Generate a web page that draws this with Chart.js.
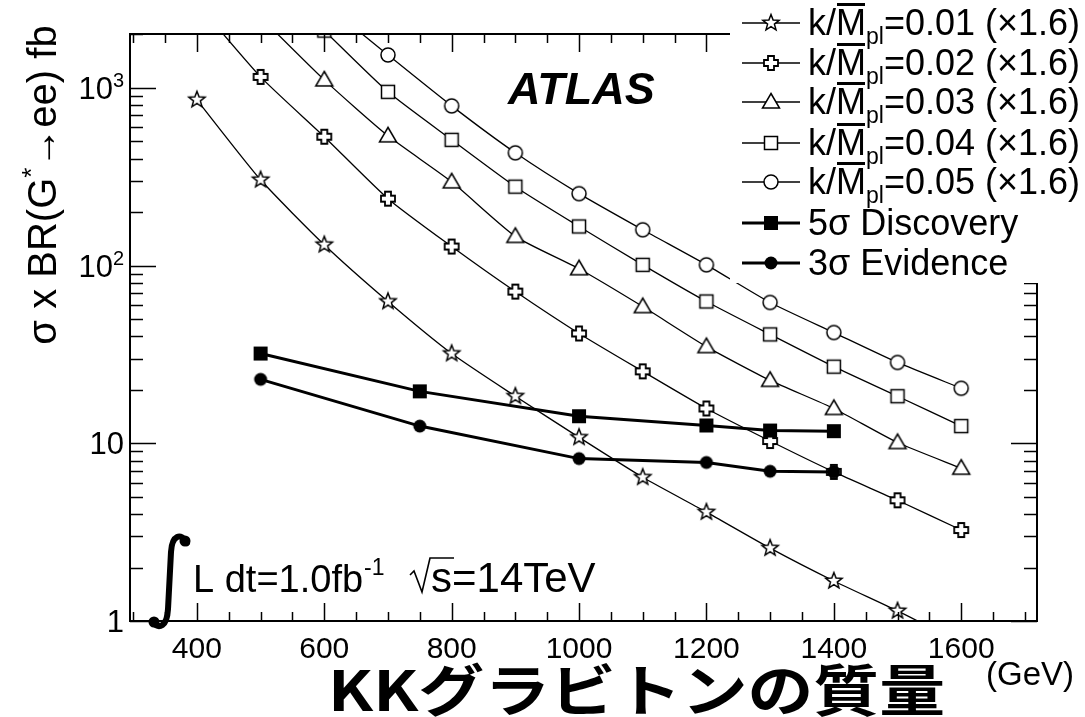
<!DOCTYPE html>
<html>
<head>
<meta charset="utf-8">
<script src="https://cdn.jsdelivr.net/npm/chart.js@4.4.0/dist/chart.umd.min.js"></script>
<style>
  html, body { margin: 0; padding: 0; background: #fff; }
  #wrap { width: 1085px; height: 717px; position: relative; }
</style>
</head>
<body>
<div id="wrap"><canvas id="chart" width="1085" height="717"></canvas></div>
<script>
// graviton mass points (GeV)
const masses = [400, 500, 600, 700, 800, 900, 1000, 1100, 1200, 1300, 1400, 1500, 1600];

// sigma x BR (fb), already scaled x1.6
const k001 = [857, 304, 131, 62.8, 32, 18.4, 10.8, 6.44, 4.1, 2.57, 1.68, 1.14, 0.75];
const k002 = [3000, 1153, 531, 238, 128, 71.4, 41.5, 25.4, 15.7, 10.3, 6.9, 4.78, 3.25];
const k003 = [null, 2500, 1109, 537, 296, 146, 96, 58.8, 35, 22.6, 15.7, 10.1, 7.24];
const k004 = [null, null, 2100, 950, 510, 278, 166, 101, 62.8, 41, 27, 18.4, 12.5];
const k005 = [null, null, 3000, 1532, 792, 431, 254, 159, 101, 62, 42, 28.5, 20.4];

// discovery / evidence thresholds
const sigMasses = [500, 750, 1000, 1200, 1300, 1400];
const disc5 = [32, 19.6, 14.2, 12.6, 11.8, 11.7];
const evid3 = [22.9, 12.5, 8.2, 7.8, 6.96, 6.9];

const couplings = ['0.01', '0.02', '0.03', '0.04', '0.05'];
const xTickValues = [400, 600, 800, 1000, 1200, 1400, 1600];
const yTickValues = [1, 10, 100, 1000];
const yTickBase = ['1', '10', '10', '10'];
const yTickExp = ['', '', '2', '3'];

const FONT = '"Liberation Sans", Arial, Helvetica, sans-serif';

// ---- marker images ----
function marker(draw) {
  const c = document.createElement('canvas');
  c.width = 22; c.height = 22;
  const g = c.getContext('2d');
  g.translate(11, 11);
  g.strokeStyle = '#000';
  g.fillStyle = '#fff';
  g.lineWidth = 1.5;
  draw(g);
  return c;
}
function poly(g, pts) {
  g.beginPath();
  pts.forEach((p, i) => i ? g.lineTo(p[0], p[1]) : g.moveTo(p[0], p[1]));
  g.closePath();
  g.fill();
  g.stroke();
}
const mStar = marker(g => {
  const pts = [];
  for (let i = 0; i < 10; i++) {
    const r = i % 2 ? 3.6 : 8.5;
    const a = -Math.PI / 2 + i * Math.PI / 5;
    pts.push([r * Math.cos(a), r * Math.sin(a)]);
  }
  poly(g, pts);
});
const mCross = marker(g => {
  const a = 3, b = 7;
  g.lineWidth = 1.8;
  poly(g, [[-a,-b],[a,-b],[a,-a],[b,-a],[b,a],[a,a],[a,b],[-a,b],[-a,a],[-b,a],[-b,-a],[-a,-a]]);
});
const mTri = marker(g => poly(g, [[0, -8.5], [8.5, 6], [-8.5, 6]]));
const mSquare = marker(g => poly(g, [[-6.5, -6.5], [6.5, -6.5], [6.5, 6.5], [-6.5, 6.5]]));
const mCircle = marker(g => { g.beginPath(); g.arc(0, 0, 7, 0, Math.PI * 2); g.fill(); g.stroke(); });
const mFSquare = marker(g => { g.fillStyle = '#000'; g.fillRect(-7, -7, 14, 14); });
const mFCircle = marker(g => { g.fillStyle = '#000'; g.beginPath(); g.arc(0, 0, 6.5, 0, Math.PI * 2); g.fill(); });

const kMarkers = [mStar, mCross, mTri, mSquare, mCircle];
const kSeries = [k001, k002, k003, k004, k005];

function pairs(xs, ys) {
  return xs.map((x, i) => ({ x: x, y: ys[i] })).filter(p => p.y !== null);
}

const datasets = [];
datasets.push({
  label: '5σ Discovery', data: pairs(sigMasses, disc5), order: 0,
  borderColor: '#000', borderWidth: 3, tension: 0,
  pointStyle: mFSquare, pointRadius: 7
});
datasets.push({
  label: '3σ Evidence', data: pairs(sigMasses, evid3), order: 0,
  borderColor: '#000', borderWidth: 3, tension: 0,
  pointStyle: mFCircle, pointRadius: 7
});
kSeries.forEach((s, i) => {
  datasets.push({
    label: 'k/Mpl=' + couplings[i] + ' (×1.6)', data: pairs(masses, s), order: 1,
    borderColor: '#000', borderWidth: 1.3, tension: 0.2,
    pointStyle: kMarkers[i], pointRadius: 8
  });
});

// ---- frame, ticks, legend box, texts ----
const decor = {
  id: 'decor',
  afterDraw(chart) {
    const ctx = chart.ctx;
    const a = chart.chartArea;
    const xs = chart.scales.x, ys = chart.scales.y;
    ctx.save();
    ctx.strokeStyle = '#000';
    ctx.fillStyle = '#000';
    ctx.lineWidth = 2;
    ctx.strokeRect(a.left, a.top, a.right - a.left, a.bottom - a.top);

    ctx.lineWidth = 1.5;
    ctx.beginPath();
    for (let v = 300; v <= 1700; v += 50) {
      const px = Math.round(xs.getPixelForValue(v)) + 0.5;
      const len = v % 200 === 0 ? 18 : 9;
      ctx.moveTo(px, a.bottom); ctx.lineTo(px, a.bottom - len);
      ctx.moveTo(px, a.top); ctx.lineTo(px, a.top + len);
    }
    for (let d = 1; d <= 1000; d *= 10) {
      for (let m = 1; m <= 9; m++) {
        const v = d * m;
        if (v > ys.max) break;
        const py = Math.round(ys.getPixelForValue(v)) + 0.5;
        const len = m === 1 ? 26 : 13;
        ctx.moveTo(a.left, py); ctx.lineTo(a.left + len, py);
        ctx.moveTo(a.right, py); ctx.lineTo(a.right - len, py);
      }
    }
    ctx.stroke();

    // y tick labels with exponents
    ctx.textBaseline = 'alphabetic';
    yTickValues.forEach((v, i) => {
      const py = ys.getPixelForValue(v);
      ctx.font = '20px ' + FONT;
      const we = yTickExp[i] ? ctx.measureText(yTickExp[i]).width : 0;
      ctx.textAlign = 'right';
      ctx.fillText(yTickExp[i], 124, py - 1);
      ctx.font = '31px ' + FONT;
      ctx.fillText(yTickBase[i], 124 - we, py + 11);
    });
    ctx.textAlign = 'left';

    // legend box
    ctx.fillStyle = '#fff';
    ctx.fillRect(730, 0, 1085 - 730, 283);
    const rowY = [23, 63, 102, 143, 182, 223, 263];
    const allMarkers = kMarkers.concat([mFSquare, mFCircle]);
    ctx.fillStyle = '#000';
    rowY.forEach((y, i) => {
      ctx.lineWidth = i < 5 ? 1.3 : 3;
      ctx.beginPath();
      ctx.moveTo(742, y); ctx.lineTo(800, y);
      ctx.stroke();
      ctx.drawImage(allMarkers[i], 771 - 11, y - 11);
      const base = y + 12;
      let x = 808;
      if (i < 5) {
        ctx.font = '36px ' + FONT;
        ctx.fillText('k/', x, base); x += ctx.measureText('k/').width;
        const wM = ctx.measureText('M').width;
        ctx.fillText('M', x, base);
        ctx.fillRect(x + 1, base - 32, wM - 2, 3);
        x += wM;
        ctx.font = '23px ' + FONT;
        ctx.fillText('pl', x, base + 9); x += ctx.measureText('pl').width;
        ctx.font = '36px ' + FONT;
        ctx.fillText('=' + couplings[i] + ' (×1.6)', x, base);
      } else {
        ctx.font = '36px ' + FONT;
        ctx.fillText(i === 5 ? '5σ Discovery' : '3σ Evidence', x, base);
      }
    });

    // ATLAS label
    ctx.font = 'italic bold 45px ' + FONT;
    ctx.fillText('ATLAS', 508, 104);

    // luminosity / energy label
    ctx.lineWidth = 6;
    ctx.lineCap = 'round';
    ctx.beginPath();
    ctx.moveTo(187, 543);
    ctx.bezierCurveTo(181, 532, 172, 535, 171, 552);
    ctx.lineTo(168, 609);
    ctx.bezierCurveTo(167, 627, 159, 629, 153, 623);
    ctx.stroke();
    ctx.beginPath(); ctx.arc(185, 541, 5.5, 0, Math.PI * 2); ctx.fill();
    ctx.beginPath(); ctx.arc(154, 622, 5.5, 0, Math.PI * 2); ctx.fill();
    ctx.lineCap = 'butt';
    ctx.font = '38px ' + FONT;
    let tx = 193;
    ctx.fillText('L dt=1.0fb', tx, 592); tx += ctx.measureText('L dt=1.0fb').width;
    ctx.font = '23px ' + FONT;
    ctx.fillText('-1', tx + 1, 575);
    // sqrt sign
    ctx.lineWidth = 1.6;
    ctx.beginPath();
    ctx.moveTo(410, 575); ctx.lineTo(414, 571); ctx.lineTo(422, 592);
    ctx.lineTo(430, 558); ctx.lineTo(454, 558);
    ctx.stroke();
    ctx.font = '42px ' + FONT;
    ctx.fillText('s=14TeV', 431, 592);

    // x title (glyphs a bit wider than tall, as in the original)
    ctx.save();
    ctx.font = 'bold 56px "Noto Sans CJK JP", sans-serif';
    const title = 'KKグラビトンの質量';
    const tw = ctx.measureText(title).width;
    ctx.translate(328, 711);
    ctx.scale(617 / tw, 1);
    ctx.fillText(title, 0, 0);
    ctx.restore();
    ctx.font = '33px ' + FONT;
    ctx.fillText('(GeV)', 986, 685);

    // y title
    ctx.save();
    ctx.translate(56, 185);
    ctx.rotate(-Math.PI / 2);
    ctx.font = '40px ' + FONT;
    const p1 = 'σ x BR(G', p2 = '→ee) fb';
    const w1 = ctx.measureText(p1).width;
    ctx.font = '26px ' + FONT;
    const wS = ctx.measureText('*').width;
    ctx.font = '40px ' + FONT;
    const w2 = ctx.measureText(p2).width;
    let yx = -(w1 + wS + w2) / 2;
    ctx.fillText(p1, yx, 0); yx += w1;
    ctx.font = '26px ' + FONT;
    ctx.fillText('*', yx, -16); yx += wS;
    ctx.font = '40px ' + FONT;
    ctx.fillText(p2, yx, 0);
    ctx.restore();

    ctx.restore();
  }
};

new Chart(document.getElementById('chart'), {
  type: 'line',
  data: { datasets: datasets },
  options: {
    responsive: false,
    animation: false,
    layout: { padding: { left: 0, top: 34, right: 48, bottom: 0 } },
    elements: { line: { capBezierPoints: false }, point: { borderWidth: 0 } },
    plugins: { legend: { display: false }, tooltip: { enabled: false } },
    scales: {
      x: {
        type: 'linear', min: 295, max: 1719,
        grid: { display: false, drawTicks: false },
        border: { display: false },
        afterBuildTicks: s => { s.ticks = xTickValues.map(v => ({ value: v })); },
        afterFit: s => { s.height = 96; },
        ticks: {
          autoSkip: false, maxRotation: 0, padding: 11, color: '#000',
          font: { family: FONT, size: 30 },
          callback: v => String(v)
        }
      },
      y: {
        type: 'logarithmic', min: 1, max: 2010,
        grid: { display: false, drawTicks: false },
        border: { display: false },
        afterBuildTicks: s => { s.ticks = yTickValues.map(v => ({ value: v })); },
        afterFit: s => { s.width = 130; },
        ticks: { display: false }
      }
    }
  },
  plugins: [decor]
});
</script>
</body>
</html>
